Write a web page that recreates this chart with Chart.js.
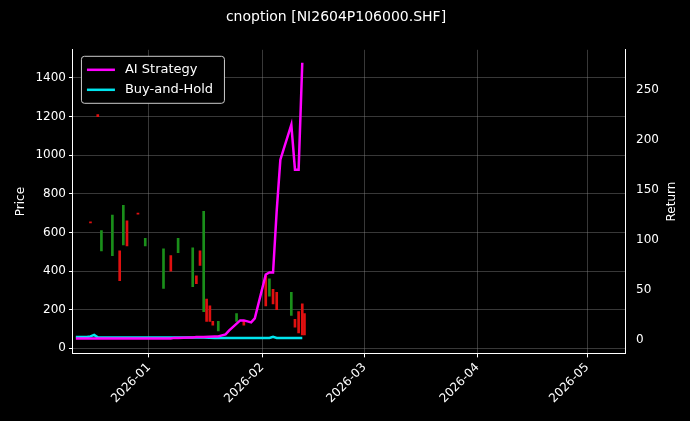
<!DOCTYPE html>
<html><head><meta charset="utf-8">
<script src="https://cdn.jsdelivr.net/npm/chart.js@4/dist/chart.umd.min.js"></script>
<style>html,body{margin:0;background:#000}#wrap{width:690px;height:421px}</style>
</head><body><div id="wrap"><canvas id="c"></canvas></div>
<script>
// days since 2026-01-01
const days = [-20,-17,-16,-15,-14,-13,-10,-9,-8,-7,-6,-3,-2,-1,4,5,6,7,8,11,12,13,14,15,18,19,20,21,22,25,26,27,28,29,32,33,34,35,36,39,40,41,42];
const aiReturn = [1,1,1,1,1,1,1,1,1,1,1,1,1,1,1,1,1,1.5,1.5,2,2,2.5,2.5,2.5,3,3,4,5,9,19,19,18,17,21,65,67,67,129,180,215,170,170,277];
const bhReturn = [2.5,2.5,3,4.5,2,2,2,2,2,2,2,2,2,2,2,2,2,2,2,2,2,2,2,2,1.5,1.5,1.5,1.5,1.5,1.5,1.5,1.5,1.5,1.5,1.5,1.5,2.5,1.5,1.5,1.5,1.5,1.5,1.5];
// candles: [day, open, close]
const candles = [
  [-16,655,650],[-14,1210,1200],[-13,505,610],[-10,480,690],[-8,505,350],[-7,535,740],[-6,660,530],
  [-3,700,695],[-1,530,570],[4,310,515],[6,480,400],[8,495,570],[12,320,520],[13,375,335],
  [14,505,430],[15,190,710],[15.8,255,140],[16.7,220,140],[17.5,140,120],[19,90,140],
  [24,140,180],[26,140,120],[32,375,220],[33,270,360],[34,305,230],[35,290,200],
  [39,170,290],[40,150,110],[41,190,80],[42,230,70],[42.6,180,70]
];
const tickDays = [0,31,59,90,120];
const tickLabels = ['2026-01','2026-02','2026-03','2026-04','2026-05'];

const pts = (ys) => days.map((d,i) => ({x:d, y:ys[i]}));
const bodies = candles.map(c => ({x:c[0], y:[c[1],c[2]]}));
const bodyColors = candles.map(c => c[2] >= c[1] ? '#1a8f1a' : '#e01010');

const legendPlugin = {
  id:'lg',
  afterDraw(ch){
    const ctx = ch.ctx, a = ch.chartArea;
    const x = a.left+8, y = a.top+6;
    ctx.save();
    ctx.fillStyle='#000'; ctx.strokeStyle='#ccc'; ctx.lineWidth=1;
    ctx.beginPath(); ctx.roundRect(x+0.5,y+0.5,143,47,3); ctx.fill(); ctx.stroke();
    ctx.font='13px "DejaVu Sans"'; ctx.textBaseline='middle';
    [['AI Strategy','#ff00ff'],['Buy-and-Hold','#00e5ee']].forEach((l,i)=>{
      const yy = y+14+i*20;
      ctx.strokeStyle=l[1]; ctx.lineWidth=2.5;
      ctx.beginPath(); ctx.moveTo(x+6,yy); ctx.lineTo(x+34,yy); ctx.stroke();
      ctx.fillStyle='#fff'; ctx.fillText(l[0], x+44, yy);
    });
    // right axis title, reading bottom to top
    ctx.translate(672, (a.top+a.bottom)/2);
    ctx.rotate(-Math.PI/2);
    ctx.textAlign='center'; ctx.font='12px "DejaVu Sans"'; ctx.fillStyle='#fff';
    ctx.fillText('Return', 0, 0);
    ctx.restore();
  }
};

const grid = {color:'rgba(140,140,140,0.4)', borderDash:[3,3], drawTicks:true, tickColor:'#fff', tickLength:4};
new Chart(document.getElementById('c'), {
  data:{datasets:[
    {type:'bar', data:bodies, backgroundColor:bodyColors, barThickness:2, yAxisID:'y', order:3},
    {type:'line', label:'Buy-and-Hold', data:pts(bhReturn), borderColor:'#00e5ee', borderWidth:2.5, pointRadius:0, yAxisID:'y1', order:2},
    {type:'line', label:'AI Strategy', data:pts(aiReturn), borderColor:'#ff00ff', borderWidth:2.5, pointRadius:0, yAxisID:'y1', order:1}
  ]},
  options:{
    responsive:true, maintainAspectRatio:false, animation:false,
    layout:{padding:{left:10,right:28,top:0,bottom:12}},
    plugins:{legend:{display:false}, tooltip:{enabled:false},
      title:{display:true, text:'cnoption [NI2604P106000.SHF]', color:'#fff', font:{size:14, family:'DejaVu Sans', weight:'normal'}, padding:{top:9,bottom:24}}},
    scales:{
      x:{type:'linear', offset:false, min:-20.8, max:130.4, grid:{...grid, offset:false}, border:{color:'#fff'},
        afterBuildTicks(s){ s.ticks = tickDays.map(v=>({value:v})); },
        ticks:{color:'#fff', maxRotation:45, minRotation:45, font:{size:12,family:'DejaVu Sans'},
          callback:(v)=>tickLabels[tickDays.indexOf(v)]}},
      y:{position:'left', min:-26, max:1546, grid:grid, border:{color:'#fff'},
        afterBuildTicks(s){ s.ticks=[0,200,400,600,800,1000,1200,1400].map(v=>({value:v})); },
        title:{display:true,text:'Price',color:'#fff',font:{size:12,family:'DejaVu Sans'}},
        ticks:{color:'#fff', font:{size:12,family:'DejaVu Sans'}, callback:(v)=>String(v)}},
      y1:{position:'right', min:-14, max:290, grid:{display:false}, border:{color:'#fff'},
        afterBuildTicks(s){ s.ticks=[0,50,100,150,200,250].map(v=>({value:v})); },
        ticks:{color:'#fff', font:{size:12,family:'DejaVu Sans'}, callback:(v)=>String(v)}}
    }
  },
  plugins:[legendPlugin]
});
</script></body></html>
